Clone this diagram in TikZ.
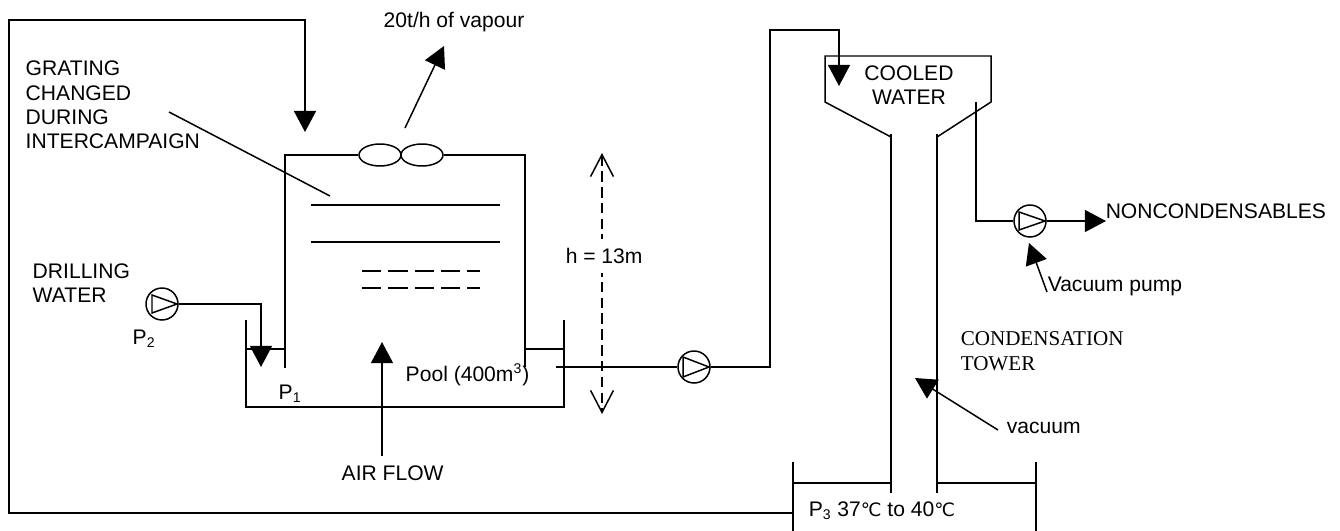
\documentclass[tikz,border=0pt]{standalone}
\usepackage{fontspec}
\setmainfont{Liberation Sans}
\newfontfamily\serifname{Liberation Serif}
\newfontfamily\degname{DejaVu Sans}
\usetikzlibrary{arrows.meta,shapes.geometric}
\newcommand{\degC}{{\degname\fontsize{10.5}{12}\selectfont ℃}}
\begin{document}
\begin{tikzpicture}[
  x=0.02cm, y=-0.02cm,
  line width=0.85pt,
  lbl/.style={anchor=west, inner sep=0pt, align=left, font=\fontsize{12}{13.9}\selectfont},
  pump/.style={circle, draw, fill=white, inner sep=0pt, minimum size=0.64cm},
  blade/.style={ellipse, draw, fill=white, inner sep=0pt, minimum width=0.84cm, minimum height=0.44cm},
  arr/.style={-{Triangle[length=12pt,width=12.5pt]}},
  arropen/.style={{Straight Barb[length=12.5pt,width=13pt]}-{Straight Barb[length=12.5pt,width=13pt]}, dash pattern=on 6pt off 3pt}
]
  \useasboundingbox (0,0) rectangle (1340,531);

  % Pumps and fan
  \node[pump] (p2) at (162,304) {};
  \node[pump] (p0) at (694,367) {};
  \node[pump] (pv) at (1030,221) {};
  \draw (152,295) -- (177,304) -- (152,313) -- cycle;
  \draw (683,357) -- (709,367) -- (683,377) -- cycle;
  \draw (1019,212) -- (1045,221) -- (1019,230) -- cycle;
  \node[blade] (fan1) at (380,155) {};
  \node[blade] (fan2) at (422,155) {};

  % Labels
  \node[lbl] (vapour) at (383,22) {20t/h of vapour};
  \node[lbl] (grating) at (25,105) {GRATING\\CHANGED\\DURING\\INTERCAMPAIGN};
  \node[lbl] (drilling) at (32,283) {DRILLING\\WATER};
  \node[lbl] (ptwo) at (132,339) {P$_{\mathrm{2}}$};
  \node[lbl] (pone) at (278,394) {P$_{\mathrm{1}}$};
  \node[lbl] (pool) at (405,375) {Pool (400m$^{\mathrm{3}}$)};
  \node[lbl] (air) at (341,473) {AIR FLOW};
  \node[lbl, anchor=center, align=center] (cooled) at (909,85) {COOLED\\WATER};
  \node[lbl] (noncond) at (1105,211) {NONCONDENSABLES};
  \node[lbl] (vpump) at (1047,286) {Vacuum pump};
  \node[lbl, font=\serifname\fontsize{12}{14.2}\selectfont] (tower) at (960,351) {CONDENSATION\\TOWER};
  \node[lbl] (vacuum) at (1006,428) {vacuum};
  \node[lbl] (pthree) at (808,511) {P$_{\mathrm{3}}$ 37\degC{} to 40\degC};

  % Tank and pool
  \coordinate (tl) at (285,155);
  \coordinate (tr) at (525,155);
  \draw (285,368) -- (tl) -- (fan1.west);
  \draw (fan2.east) -- (tr) -- (525,367);
  \draw (246,320) -- (246,407) -- (564,407) -- (564,320);
  \draw (246,349) -- (285,349);
  \draw (525,349) -- (564,349);
  \draw (311,205) -- (500,205);
  \draw (311,242) -- (500,242);
  \draw[dash pattern=on 11pt off 4pt] (362,271) -- (480,271);
  \draw[dash pattern=on 11pt off 4pt] (362,288) -- (480,288);

  % Condensation tower
  \draw (891,134) -- (891,493);
  \draw (937,134) -- (937,493);
  \draw (891,137) -- (825,102) -- (825,56) -- (991,56) -- (991,102) -- (937,137);
  \draw (793,462) -- (793,531);
  \draw (1036,462) -- (1036,531);
  \draw (793,483) -- (891,483);
  \draw (937,483) -- (1036,483);

  % Pipes
  \coordinate (ret) at (793,513);
  \coordinate (rin) at (305,132);
  \coordinate (dw) at (261,367);
  \coordinate (ot) at (556,367);
  \coordinate (hin) at (839,86);
  \coordinate (vin) at (976,102);
  \coordinate (nc) at (1106,221);
  \draw[arr, line width=1.1pt] (ret) -- (9,513) -- (9,20) -- (305,20) -- (rin);
  \draw[arr] (p2.east) -- (261,304) -- (dw);
  \draw (ot) -- (p0.west);
  \draw[arr] (p0.east) -- (770,367) -- (770,30) -- (839,30) -- (hin);
  \draw (vin) -- (976,221) -- (pv.west);
  \draw[arr] (pv.east) -- (nc);

  % Pointers
  \coordinate (vapa) at (405,128);
  \coordinate (vapb) at (444,46);
  \coordinate (aira) at (382,456);
  \coordinate (airb) at (382,342);
  \coordinate (graa) at (169,112);
  \coordinate (grab) at (330,196);
  \coordinate (vpa) at (1047,292);
  \coordinate (vpb) at (1029,243);
  \coordinate (vaa) at (998,430);
  \coordinate (vab) at (915,378);
  \draw[arr] (vapa) -- (vapb);
  \draw[arr] (aira) -- (airb);
  \draw (graa) -- (grab);
  \draw[arr] (vpa) -- (vpb);
  \draw[arr] (vaa) -- (vab);

  % Height
  \coordinate (ha) at (602,153);
  \coordinate (hb) at (602,414);
  \draw[arropen] (ha) -- (hb);
  \node[lbl, fill=white, inner ysep=5pt] (height) at (565,256) {h = 13m};
\end{tikzpicture}
\end{document}
